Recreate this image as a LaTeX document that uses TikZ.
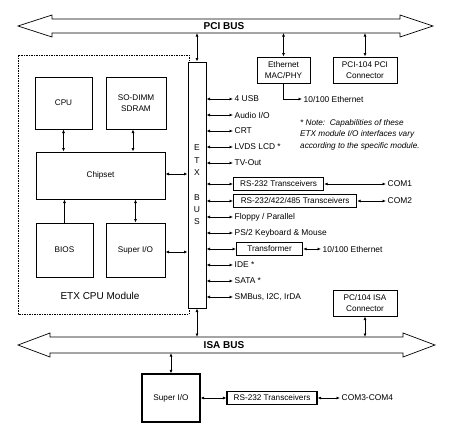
\documentclass[tikz,border=0pt]{standalone}
\usepackage{fontspec}
\setmainfont{Liberation Sans}
\usetikzlibrary{arrows.meta}
\begin{document}
\begin{tikzpicture}[x=1pt,y=-1pt,
  txt/.style={font=\fontsize{8.4}{9.6}\selectfont, inner xsep=1.5pt, inner ysep=0pt},
  blk/.style={draw, line width=1pt, fill=white, font=\fontsize{8.2}{10.5}\selectfont, align=center, inner sep=0pt},
  tbox/.style={draw, line width=1.2pt, fill=white, font=\fontsize{8.2}{9.6}\selectfont, inner sep=0pt, minimum height=13},
  dbl/.style={{Latex[length=3.5pt,width=3pt]}-{Latex[length=3.5pt,width=3pt]}, line width=0.8pt},
  sgl/.style={-{Latex[length=3.5pt,width=3pt]}, line width=0.8pt},
  bus/.style={draw, line width=0.7pt, fill=white},
  buslbl/.style={font=\bfseries\fontsize{10}{12}\selectfont, inner sep=0pt},
  modbox/.style={draw, line width=0.8pt, dash pattern=on 1.5pt off 1pt}
]
\useasboundingbox (0,0) rectangle (450,434);

% buses
\draw[bus] (18,26) -- (52,15) -- (52,19) -- (400,19) -- (400,15) -- (433,26) -- (400,37) -- (400,33) -- (52,33) -- (52,37) -- cycle;
\node[buslbl] (pcilbl) at (224,26) {PCI BUS};
\draw[bus] (18,345) -- (50,333) -- (50,337) -- (403,337) -- (403,333) -- (435,345) -- (403,357) -- (403,353) -- (50,353) -- (50,357) -- cycle;
\node[buslbl] (isalbl) at (224,345) {ISA BUS};
\coordinate (pcibot) at (0,33);
\coordinate (isatop) at (0,337);
\coordinate (isabot) at (0,353);

% module
\draw[modbox] (18,55) rectangle (189,314);
\node[font=\fontsize{10}{12}\selectfont, inner sep=0pt] (modlbl) at (100,296) {ETX CPU Module};

\node[blk, minimum width=57, minimum height=52] (cpu) at (63.5,103) {CPU};
\node[blk, minimum width=60, minimum height=52] (sodimm) at (136,103) {SO-DIMM\\SDRAM};
\node[blk, minimum width=129, minimum height=47] (chip) at (100.5,175.5) {Chipset};
\node[blk, minimum width=57, minimum height=54] (bios) at (64.5,250) {BIOS};
\node[blk, minimum width=59, minimum height=54] (sio) at (135.5,250) {Super I/O};

\node[blk, minimum width=18, minimum height=246] (etx) at (197,185) {};
\node[font=\fontsize{8.5}{12.33}\selectfont, align=center, inner sep=0pt] (etxlbl) at (197,185) {E\\T\\X\\[12.33pt]B\\U\\S};

\node[blk, minimum width=53, minimum height=26] (eth) at (283.5,70) {Ethernet\\MAC/PHY};
\node[blk, minimum width=64, minimum height=26] (pci104) at (365,70) {PCI-104 PCI\\Connector};
\node[blk, minimum width=64, minimum height=26] (isa104) at (365,303) {PC/104 ISA\\Connector};
\node[blk, line width=1.2pt, minimum width=58, minimum height=48] (sio2) at (171,398) {Super I/O};

% signal list
\node[txt, anchor=west] (usb) at (233,99) {4 USB};
\node[txt, anchor=west] (audio) at (233,115) {Audio I/O};
\node[txt, anchor=west] (crt) at (233,131) {CRT};
\node[txt, anchor=west] (lvds) at (233,147) {LVDS LCD *};
\node[txt, anchor=west] (tv) at (233,163) {TV-Out};
\node[tbox, anchor=west, minimum width=90] (rs1) at (233,184) {RS-232 Transceivers};
\node[tbox, anchor=west, minimum width=123] (rs2) at (233,201) {RS-232/422/485 Transceivers};
\node[txt, anchor=west] (floppy) at (233,217) {Floppy / Parallel};
\node[txt, anchor=west] (ps2) at (233,233) {PS/2 Keyboard \& Mouse};
\node[tbox, anchor=west, minimum width=66] (trans) at (236,249) {Transformer};
\node[txt, anchor=west] (ide) at (233,265) {IDE *};
\node[txt, anchor=west] (sata) at (233,281) {SATA *};
\node[txt, anchor=west] (smbus) at (233,297) {SMBus, I2C, IrDA};

\node[txt, anchor=west] (com1) at (386,184) {COM1};
\node[txt, anchor=west] (com2) at (386,201) {COM2};
\node[txt, anchor=west] (eth2) at (321,249) {10/100 Ethernet};
\node[txt, anchor=west] (eth1) at (302,99) {10/100 Ethernet};

\node[tbox, minimum width=90] (rs3) at (272,398) {RS-232 Transceivers};
\node[txt, anchor=west] (com34) at (340,398) {COM3-COM4};

\node[font=\itshape\fontsize{8.2}{11.5}\selectfont, align=left, anchor=north west, inner sep=0pt] (note) at (300,119) {* Note:\ \ Capabilities of these\\ETX module I/O interfaces vary\\according to the specific module.};

% connectors: bus
\draw[dbl] (etx.north) -- (etx.north |- pcibot);
\draw[dbl] (eth.north) -- (eth.north |- pcibot);
\draw[dbl] (pci104.north) -- (pci104.north |- pcibot);
\draw[dbl] (etx.south) -- (etx.south |- isatop);
\draw[dbl] (isa104.south) -- (isa104.south |- isatop);
\draw[dbl] (sio2.north) -- (sio2.north |- isabot);

% module internals
\draw[dbl] (cpu.south) -- (cpu.south |- chip.north);
\draw[dbl] ([xshift=-3]sodimm.south) -- ([xshift=-3]sodimm.south |- chip.north);
\draw[sgl] (bios.north) -- (bios.north |- chip.south);
\draw[dbl] (sio.north) -- (sio.north |- chip.south);
\draw[dbl] ([yshift=1.5]chip.east) -- ([yshift=1.5]chip.east -| etx.west);
\draw[dbl] ([yshift=-2]sio.east) -- ([yshift=-2]sio.east -| etx.west);

% signal connectors
\foreach \n in {usb,audio,crt,lvds,tv,rs1,rs2,floppy,ps2,trans,ide,sata,smbus}
  \draw[dbl] (etx.east |- \n.west) -- (\n.west);
\draw[dbl] (rs1.east) -- (com1.west);
\draw[dbl] (rs2.east) -- (com2.west);
\draw[dbl] (trans.east) -- (eth2.west);
\draw[sgl] (eth.south) |- (eth1.west);
\draw[dbl] (sio2.east |- rs3.west) -- (rs3.west);
\draw[dbl] (rs3.east) -- (com34.west);
\end{tikzpicture}
\end{document}
